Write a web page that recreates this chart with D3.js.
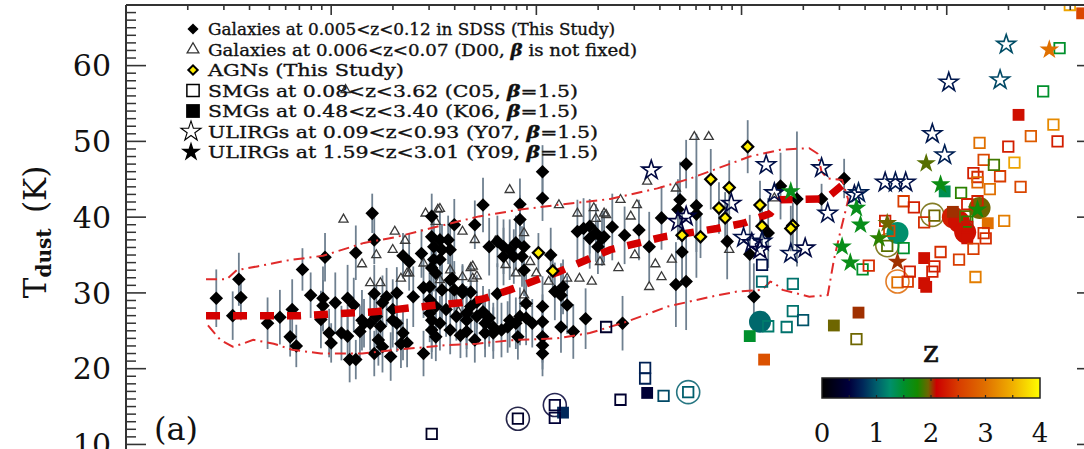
<!DOCTYPE html>
<html>
<head>
<meta charset="utf-8">
<script src="https://cdn.jsdelivr.net/npm/d3@7"></script>
<style>
  html, body { margin: 0; padding: 0; background: #fff; }
  svg { display: block; }
  text { font-family: "DejaVu Serif", "Liberation Serif", serif; fill: #111; }
</style>
</head>
<body>
<svg id="chart" width="1084" height="449"></svg>
<script>
// ---- data: x = log10(L_IR / L_sun), y = T_dust (K) ----

// SDSS galaxies, 0.005<z<0.12: [logL, Tdust, error]
const sdssGalaxies = [
  [9.44,29.3,3.8],[9.55,31.8,3.5],[9.56,29.4,3.0],[9.52,27.0,3.2],[9.69,26.0,3.4],[9.75,26.8,3.6],
  [9.81,27.8,4.0],[9.80,24.2,2.6],[9.83,23.0,2.8],[9.86,33.1,2.8],[9.90,29.7,3.0],[9.97,34.7,3.2],
  [9.96,29.3,4.2],[9.96,28.3,3.4],[9.95,26.5,3.8],[9.99,24.7,3.2],[10.00,23.4,2.6],[10.02,28.7,4.0],
  [10.05,24.7,3.6],[10.08,24.3,3.4],[10.08,29.3,4.4],[10.11,28.4,3.6],[10.12,35.3,3.6],[10.20,40.5,2.6],
  [10.21,37.0,3.2],[10.21,29.9,3.8],[10.16,26.0,3.2],[10.09,21.2,3.0],[10.12,21.2,2.6],[10.21,22.0,3.0],
  [10.49,40.1,3.0],[10.60,39.0,3.4],[10.70,39.0,3.2],[10.49,37.4,3.6],[10.53,37.0,3.8],[10.57,37.0,3.2],
  [10.50,36.1,4.0],[10.54,35.7,3.4],[10.58,35.7,3.6],[10.44,35.2,3.2],[10.38,34.1,3.8],[10.35,34.9,3.0],
  [10.50,34.4,4.2],[10.53,34.4,3.6],[10.49,33.3,3.8],[10.51,32.6,4.4],[10.59,31.9,3.4],[10.45,30.7,4.0],
  [10.48,30.8,3.6],[10.54,30.4,4.4],[10.60,30.4,3.8],[10.64,30.4,3.2],[10.68,30.1,3.6],[10.40,29.5,4.0],
  [10.32,30.0,3.4],[10.27,29.5,3.8],[10.25,28.7,3.6],[10.48,29.1,4.4],[10.51,28.2,4.0],[10.56,27.8,3.6],
  [10.61,26.9,3.2],[10.66,26.4,3.8],[10.71,26.9,3.4],[10.49,26.4,4.2],[10.53,26.0,3.6],[10.58,25.1,3.2],
  [10.63,24.4,3.0],[10.66,24.9,3.4],[10.49,25.1,3.8],[10.51,24.2,3.2],[10.45,22.0,3.0],[10.29,21.6,3.2],
  [10.25,22.9,3.4],[10.32,26.0,3.8],[10.35,24.7,3.6],[10.37,23.4,3.2],[10.30,27.8,4.0],[10.30,26.4,3.6],
  [10.22,26.9,4.2],[10.24,25.6,3.8],[10.23,23.8,3.4],[10.15,26.4,4.0],[10.19,26.0,3.6],[10.14,24.9,3.4],
  [10.71,28.8,3.6],[10.70,23.8,3.0],[11.03,46.0,3.5],[11.03,42.5,3.0],[10.92,41.7,3.4],[10.74,41.6,3.6],
  [10.92,39.7,3.2],[10.77,36.1,3.8],[10.81,36.8,3.4],[10.84,36.1,3.6],[10.87,35.7,4.0],[10.90,36.6,3.6],
  [10.94,36.1,3.4],[10.84,34.8,3.8],[10.89,34.8,3.6],[10.93,34.8,4.0],[10.94,33.0,3.4],[11.07,35.0,3.6],
  [11.20,38.1,4.2],[11.23,38.5,4.0],[11.26,38.8,3.6],[11.29,37.9,3.8],[11.33,37.4,3.4],[11.26,37.2,4.0],
  [11.30,36.1,3.6],[11.09,30.2,3.8],[11.12,29.7,4.2],[11.13,30.8,3.6],[11.15,28.4,3.8],[11.03,28.2,4.0],
  [11.03,26.2,3.6],[11.03,24.2,3.4],[11.03,23.1,3.2],[11.03,22.0,3.0],[11.24,26.6,4.0],[11.18,24.9,3.6],
  [11.12,25.5,3.4],[10.92,26.9,3.8],[10.90,26.0,3.4],[10.95,26.7,3.6],[10.98,26.0,3.2],[10.34,23.3,3.2],
  [10.48,27.3,3.8],[10.66,27.3,3.6],[10.74,27.5,3.4],[10.77,26.7,3.8],[10.81,29.9,4.0],[10.75,26.0,3.4],
  [10.79,25.5,3.2],[10.83,25.1,3.6],[10.58,31.7,3.6],[10.64,30.0,3.8],[10.68,28.2,3.4],[10.87,26.4,3.6],
  [10.86,25.5,3.4],[10.75,24.7,3.2],[10.79,24.7,3.4],[10.91,24.2,3.0],[10.95,28.6,3.8],
  [11.73,47.0,3.2],[11.70,42.3,5.0],[11.69,41.0,4.0],[11.78,41.5,9.5],[11.78,40.4,5.0],[11.61,39.9,4.2],
  [11.37,38.7,4.4],[11.43,37.6,3.8],[11.50,38.3,4.0],[11.55,36.1,4.6],[11.32,37.2,3.6],[11.71,35.4,4.4],
  [11.93,36.8,5.0],[12.19,44.1,4.4],[12.27,42.4,8.9],[12.13,37.9,4.6],[12.04,35.1,5.2],[11.68,31.1,5.6],
  [11.73,31.5,6.4],[12.06,29.5,4.4],[11.42,26.0,3.6],[12.50,45.1,2.6],[12.39,42.4,2.0]
];

// D00 galaxies, 0.006<z<0.07: [logL, Tdust]
const d00Galaxies = [
  [10.06,39.7],[10.15,33.8],[10.19,31.3],[10.22,35.0],[10.46,40.5],[10.52,41.0],[10.51,39.4],[10.64,38.1],
  [10.31,38.1],[10.36,36.9],[10.30,35.7],[10.45,33.9],[10.24,31.3],[10.37,32.6],[10.34,31.9],[10.68,33.3],
  [10.71,32.2],[10.58,33.0],[10.53,31.7],[10.62,27.5],[10.67,27.7],[10.87,43.6],[11.11,41.6],[10.53,41.1],
  [10.70,37.0],[10.80,36.8],[10.94,37.9],[10.69,33.5],[10.85,33.7],[10.90,32.6],[10.97,34.1],[11.00,32.6],
  [11.06,31.5],[11.15,31.9],[11.21,31.9],[11.20,40.5],[11.31,34.1],[11.33,40.5],[10.94,29.7],[10.95,28.6],
  [10.69,31.9],[10.38,32.6],[10.64,32.1],[11.77,50.6],[11.84,50.6],[11.54,44.7],[11.68,43.8],[11.41,42.3],
  [11.49,41.6],[11.34,40.3],[11.46,40.1],[11.48,35.0],[11.58,33.8],[11.66,34.4],[11.61,32.1],[11.55,30.8],
  [11.40,33.3],[11.94,35.7],[12.16,42.5],[11.27,31.5],[11.29,39.8],[11.28,41.2],[10.07,56.8]
];

// AGNs: [logL, Tdust, error]
const agnGalaxies = [
  [11.01,35.3,2.6],[11.08,32.9,2.4],[12.03,49.3,3.5],[11.85,45.0,4.0],[11.94,43.9,3.6],[11.89,41.2,3.4],
  [11.92,39.9,3.4],[12.09,41.6,3.2],[12.10,38.8,3.0],[11.71,37.6,3.0],[11.80,37.4,2.8],[12.25,38.9,3.0],
  [12.24,38.5,3.0]
];

// SMGs from C05 (open squares): [logL, Tdust, z]
const smgC05 = [
  [10.49,11.4,0.3],[10.91,13.4,0.35],[11.09,15.2,0.45],[11.09,13.5,0.45],[11.41,15.9,0.4],[11.53,20.1,0.7],
  [11.53,18.7,0.7],[11.62,16.4,0.9],[11.74,16.9,1.0],[11.34,25.5,0.35],[12.10,33.7,0.6],[12.10,31.5,1.05],
  [12.25,31.2,1.1],[12.25,27.6,1.1],[12.30,26.4,0.95],[12.22,25.5,1.1],[12.13,25.6,1.15],[12.56,23.9,1.95],
  [12.59,33.1,1.5],[12.62,33.6,2.4],[12.71,36.2,1.9],[12.79,35.9,1.5],[12.70,39.5,2.3],[12.72,38.2,2.6],
  [12.76,31.4,3.0],[12.81,31.5,2.5],[12.82,32.8,2.3],[12.93,32.8,2.3],[12.94,33.5,2.3],[12.79,42.1,2.5],
  [12.84,41.3,2.3],[12.89,39.3,2.4],[12.94,40.2,1.95],[12.97,35.4,2.4],[13.06,34.4,2.5],[13.13,35.8,2.5],
  [13.18,37.9,2.4],[13.19,37.2,2.4],[13.14,32.1,3.1],[13.28,39.5,3.1],[13.07,43.2,1.8],[13.10,41.7,2.3],
  [13.15,42.1,2.3],[13.09,40.1,1.9],[13.10,39.4,1.8],[13.10,38.7,2.2],[13.13,45.8,2.3],[13.15,45.3,2.4],
  [13.15,44.6,2.9],[13.26,45.4,2.5],[13.21,43.7,3.0],[13.36,44.0,2.6],[13.18,47.55,2.6],[13.23,46.9,1.85],
  [13.33,47.2,3.4],[13.16,49.8,3.0],[13.30,49.3,2.3],[13.41,50.7,2.8],[13.54,50.0,2.3],[13.52,52.2,3.2],
  [13.47,56.6,1.5],[13.55,62.3,1.5],[13.60,68.0,3.4]
];

// SMGs from K06 (filled squares): [logL, Tdust, z]
const smgK06 = [
  [11.13,14.2,0.75],[11.54,16.8,0.45],[12.04,24.3,1.5],[12.11,21.2,2.7],[12.45,25.7,1.95],[12.57,27.4,2.03],
  [12.89,34.6,2.2],[12.89,31.3,2.2],[12.90,30.8,2.2],[12.99,43.4,1.35],[13.03,40.7,2.03],[13.10,37.6,2.2],
  [13.10,37.2,2.2],[13.20,39.2,3.0],[13.35,53.5,2.2],[13.66,66.9,2.6]
];

// ULIRGs from Y07 (open stars): [logL, Tdust, z]
const ulirgY07 = [
  [11.56,46.2,0.55],[12.12,46.9,0.6],[11.95,41.8,0.55],[11.73,40.1,0.5],[11.69,39.4,0.5],[12.01,37.3,0.6],
  [12.05,36.6,0.55],[12.10,36.8,0.6],[12.09,35.7,0.5],[12.24,35.2,0.6],[12.31,35.9,0.55],[12.39,46.5,0.6],
  [12.42,40.5,0.6],[12.55,42.9,0.6],[12.57,43.2,0.7],[12.70,44.6,0.6],[12.75,44.6,0.65],[12.80,44.6,0.6],
  [12.93,51.0,0.65],[12.99,48.2,0.7],[13.01,57.8,0.65],[13.26,58.1,0.9],[13.29,62.8,0.92],[12.16,43.2,0.6]
];

// ULIRGs from Y09 (filled stars): [logL, Tdust, z]
const ulirgY09 = [
  [13.50,62.1,3.0],[12.90,47.1,1.9],[12.97,44.3,1.65],[12.56,41.2,1.6],[12.58,39.0,1.6],[12.49,36.1,1.6],
  [12.53,34.0,1.62],[12.67,37.2,1.8],[12.71,39.2,1.95],[12.76,34.1,2.03],[13.15,41.0,1.7],[12.24,43.4,1.6]
];

// Large filled circles and open rings: [logL, Tdust, z]
const filledCircles = [
  [12.09,26.2,1.05],[12.76,37.9,1.25],[13.03,40.0,2.3],[13.06,39.4,2.2],[13.16,41.2,1.95],[13.09,38.0,2.2]
];
const openRings = [
  [10.91,13.4,0.35],[11.09,15.2,0.45],[11.74,16.9,1.0],[12.93,40.3,1.95],[12.71,36.3,1.95],[12.76,31.5,2.9]
];

// Median trend of the local sample
const medianTrend = [
  [9.39,27.0],[9.85,27.0],[10.21,27.5],[10.48,28.3],[10.63,28.7],[10.74,29.2],[10.87,30.4],[11.11,32.8],
  [11.36,35.7],[11.62,37.4],[11.88,38.5],[12.01,39.2],[12.14,40.5],[12.19,42.3],[12.41,42.4],[12.52,44.9]
];

// Envelope of the local sample (open contour)
const envelope = [
  [9.39,31.8],[9.49,31.8],[9.54,33.0],[9.64,33.5],[9.80,34.35],[9.96,34.9],[10.16,36.6],[10.32,37.4],
  [10.48,38.5],[10.72,40.1],[10.92,41.0],[11.10,41.6],[11.36,42.4],[11.59,43.8],[11.75,45.1],[11.93,46.9],
  [12.04,48.0],[12.19,48.9],[12.33,49.1],[12.37,48.4],[12.39,46.0],[12.42,45.1],[12.49,44.9],[12.52,42.3],
  [12.48,37.9],[12.45,34.35],[12.42,29.7],[12.33,29.5],[12.20,30.4],[12.16,31.3],[12.14,31.5],[12.10,30.4],
  [11.98,30.2],[11.85,29.5],[11.64,28.2],[11.44,26.2],[11.26,24.7],[11.10,24.0],[10.90,23.8],[10.71,23.3],
  [10.56,23.1],[10.32,22.5],[10.15,22.0],[9.95,22.0],[9.81,22.5],[9.72,23.3],[9.62,23.8],[9.57,23.3],
  [9.52,22.9],[9.46,23.8],[9.39,26.0]
];

// Axis ticks and colour bar
const yTickValues = [10, 20, 30, 40, 50, 60];
const zTickLabels = [0, 1, 2, 3, 4];
const zColorStops = [
  [0.0,"#000000"],[0.5,"#00003c"],[0.75,"#00285a"],[1.0,"#005e6c"],[1.25,"#008f6c"],[1.5,"#00902c"],
  [1.75,"#148a00"],[1.95,"#6e6600"],[2.1,"#cc0000"],[2.5,"#d83c00"],[3.0,"#e07000"],[3.5,"#f0b000"],[4.0,"#ffff00"]
];

const legendRows = [
  "Galaxies at 0.005<z<0.12 in SDSS (This Study)",
  "Galaxies at 0.006<z<0.07 (D00, β is not fixed)",
  "AGNs (This Study)",
  "SMGs at 0.08<z<3.62 (C05, β=1.5)",
  "SMGs at 0.48<z<3.40 (K06, β=1.5)",
  "ULIRGs at 0.09<z<0.93 (Y07, β=1.5)",
  "ULIRGs at 1.59<z<3.01 (Y09, β=1.5)"
];
const legendWidths = [407, 429, 196, 370, 370, 390, 390];

// ---- scales ----
const svg = d3.select("#chart");
const x = d3.scaleLog().domain([1e9, 5.4e13]).range([126, 1097]);
const y = d3.scaleLinear().domain([8, 68]).range([459.6, 5]);
const X = v => x(Math.pow(10, v));
const zColor = d3.scaleLinear()
  .domain(zColorStops.map(d => d[0]))
  .range(zColorStops.map(d => d[1]))
  .clamp(true);

const plotLeft = x.range()[0], plotRight = x.range()[1];
const plotTop = y.range()[1], plotBottom = y.range()[0];

const defs = svg.append("defs");
defs.append("clipPath").attr("id", "plotClip")
  .append("rect").attr("x", plotLeft).attr("y", plotTop)
  .attr("width", plotRight - plotLeft).attr("height", plotBottom - plotTop);

const plot = svg.append("g").attr("clip-path", "url(#plotClip)");

const sym = (type, size) => d3.symbol().type(type).size(size)();

// error bars
const errColor = "#6f8090";
plot.append("g").selectAll("line").data(sdssGalaxies.concat(agnGalaxies)).join("line")
  .attr("x1", d => X(d[0])).attr("x2", d => X(d[0]))
  .attr("y1", d => y(d[1] - d[2])).attr("y2", d => y(d[1] + d[2]))
  .attr("stroke", errColor).attr("stroke-width", 1.8);

// D00 triangles
plot.append("g").selectAll("path").data(d00Galaxies).join("path")
  .attr("d", sym(d3.symbolTriangle, 36))
  .attr("transform", d => `translate(${X(d[0])},${y(d[1])})`)
  .attr("fill", "none").attr("stroke", "#3a3a3a").attr("stroke-width", 1.3);

// SDSS diamonds
plot.append("g").selectAll("path").data(sdssGalaxies).join("path")
  .attr("d", sym(d3.symbolSquare, 92))
  .attr("transform", d => `translate(${X(d[0])},${y(d[1])}) rotate(45)`)
  .attr("fill", "#000");

// envelope and median trend
const line = d3.line().x(d => X(d[0])).y(d => y(d[1]));
plot.append("path").datum(envelope).attr("d", line)
  .attr("fill", "none").attr("stroke", "#e02a2a").attr("stroke-width", 2)
  .attr("stroke-dasharray", "11,5,2,5");
plot.append("path").datum(medianTrend).attr("d", line)
  .attr("fill", "none").attr("stroke", "#d40000").attr("stroke-width", 7.5)
  .attr("stroke-dasharray", "14,13");

// AGN diamonds
plot.append("g").selectAll("path").data(agnGalaxies).join("path")
  .attr("d", sym(d3.symbolSquare, 62))
  .attr("transform", d => `translate(${X(d[0])},${y(d[1])}) rotate(45)`)
  .attr("fill", "#ffee00").attr("stroke", "#000").attr("stroke-width", 2.2);

// open rings
plot.append("g").selectAll("circle").data(openRings).join("circle")
  .attr("cx", d => X(d[0])).attr("cy", d => y(d[1])).attr("r", 11.5)
  .attr("fill", "none").attr("stroke", d => zColor(d[2])).attr("stroke-width", 1.6)
  .attr("stroke-opacity", 0.85);

// filled circles
plot.append("g").selectAll("circle").data(filledCircles).join("circle")
  .attr("cx", d => X(d[0])).attr("cy", d => y(d[1])).attr("r", 11)
  .attr("fill", d => zColor(d[2]));

// K06 filled squares
plot.append("g").selectAll("path").data(smgK06).join("path")
  .attr("d", sym(d3.symbolSquare, 140))
  .attr("transform", d => `translate(${X(d[0])},${y(d[1])})`)
  .attr("fill", d => zColor(d[2]));

// C05 open squares
plot.append("g").selectAll("path").data(smgC05).join("path")
  .attr("d", sym(d3.symbolSquare, 110))
  .attr("transform", d => `translate(${X(d[0])},${y(d[1])})`)
  .attr("fill", "none").attr("stroke", d => zColor(d[2])).attr("stroke-width", 1.8);

// Y07 open stars
plot.append("g").selectAll("path").data(ulirgY07).join("path")
  .attr("d", sym(d3.symbolStar, 110))
  .attr("transform", d => `translate(${X(d[0])},${y(d[1])})`)
  .attr("fill", "none").attr("stroke", d => zColor(d[2])).attr("stroke-width", 1.6);

// Y09 filled stars
plot.append("g").selectAll("path").data(ulirgY09).join("path")
  .attr("d", sym(d3.symbolStar, 120))
  .attr("transform", d => `translate(${X(d[0])},${y(d[1])})`)
  .attr("fill", d => zColor(d[2]));

// ---- axes ----
const axisColor = "#333";
const axes = svg.append("g").attr("stroke", axisColor);
axes.append("line").attr("x1", plotLeft).attr("x2", plotLeft).attr("y1", plotTop).attr("y2", plotBottom).attr("stroke-width", 2);
axes.append("line").attr("x1", plotRight).attr("x2", plotRight).attr("y1", plotTop).attr("y2", plotBottom).attr("stroke-width", 2);
axes.append("line").attr("x1", plotLeft).attr("x2", plotRight).attr("y1", plotTop).attr("y2", plotTop).attr("stroke-width", 2);

// top (log) ticks
const isDecade = v => Math.abs(Math.log10(v) - Math.round(Math.log10(v))) < 1e-6;
axes.append("g").selectAll("line").data(x.ticks()).join("line")
  .attr("x1", d => x(d)).attr("x2", d => x(d))
  .attr("y1", plotTop).attr("y2", d => plotTop + (isDecade(d) ? 10 : 5))
  .attr("stroke-width", 1.6);

// left / right ticks
const minorY = d3.range(9, 68, 1).filter(v => !yTickValues.includes(v));
axes.append("g").selectAll("line").data(minorY).join("line")
  .attr("x1", plotLeft).attr("x2", plotLeft + 10).attr("y1", d => y(d)).attr("y2", d => y(d))
  .attr("stroke-width", 1.5);
axes.append("g").selectAll("line").data(yTickValues).join("line")
  .attr("x1", plotLeft).attr("x2", plotLeft + 20).attr("y1", d => y(d)).attr("y2", d => y(d))
  .attr("stroke-width", 1.6);
axes.append("g").selectAll("line").data(yTickValues).join("line")
  .attr("x1", plotRight).attr("x2", plotRight - 20).attr("y1", d => y(d)).attr("y2", d => y(d))
  .attr("stroke-width", 1.6);

svg.append("g").selectAll("text").data(yTickValues).join("text")
  .attr("x", 111).attr("y", d => y(d)).attr("dy", "0.36em")
  .attr("text-anchor", "end").attr("font-size", 30).text(d => d);

// y title
const yTitle = svg.append("text")
  .attr("transform", "translate(46,232) rotate(-90)")
  .attr("text-anchor", "middle").attr("font-size", 31);
yTitle.append("tspan").text("T");
yTitle.append("tspan").attr("font-size", 20).attr("font-weight", "bold").attr("dy", 5).text("dust");
yTitle.append("tspan").attr("dy", -5).text("\u2002(K)");

// panel label
svg.append("text").attr("x", 154).attr("y", 440).attr("font-size", 32).text("(a)");

// ---- legend ----
const legend = svg.append("g");
const rowY = i => 29 + 20.5 * i;
const legendMarks = [
  g => g.append("path").attr("d", sym(d3.symbolSquare, 62)).attr("transform", "rotate(45)").attr("fill", "#000"),
  g => g.append("path").attr("d", sym(d3.symbolTriangle, 60)).attr("fill", "none").attr("stroke", "#333").attr("stroke-width", 1.3),
  g => g.append("path").attr("d", sym(d3.symbolSquare, 44)).attr("transform", "rotate(45)").attr("fill", "#ffee00").attr("stroke", "#000").attr("stroke-width", 2),
  g => g.append("path").attr("d", sym(d3.symbolSquare, 150)).attr("fill", "none").attr("stroke", "#000").attr("stroke-width", 1.5),
  g => g.append("path").attr("d", sym(d3.symbolSquare, 190)).attr("fill", "#000"),
  g => g.append("path").attr("d", sym(d3.symbolStar, 125)).attr("transform", "translate(-2,0)").attr("fill", "none").attr("stroke", "#000").attr("stroke-width", 1.1),
  g => g.append("path").attr("d", sym(d3.symbolStar, 125)).attr("transform", "translate(-2,0)").attr("fill", "#000")
];
legendRows.forEach((label, i) => {
  const g = legend.append("g").attr("transform", `translate(193,${rowY(i)})`);
  legendMarks[i](g);
  const t = legend.append("text").attr("x", 208).attr("y", rowY(i) + 6)
    .attr("font-size", 17).attr("stroke", "#111").attr("stroke-width", 0.35)
    .attr("textLength", legendWidths[i]).attr("lengthAdjust", "spacingAndGlyphs");
  label.split("β").forEach((part, k) => {
    if (k > 0) t.append("tspan").attr("font-weight", "bold").attr("font-style", "italic").text("β");
    t.append("tspan").text(part);
  });
});

// ---- colour bar ----
const zx = d3.scaleLinear().domain([0, 4]).range([822, 1040]);
const grad = defs.append("linearGradient").attr("id", "zGrad")
  .attr("x1", "0%").attr("x2", "100%").attr("y1", "0%").attr("y2", "0%");
grad.selectAll("stop").data(zColorStops).join("stop")
  .attr("offset", d => (d[0] / 4 * 100) + "%").attr("stop-color", d => d[1]);
const cbTop = 378, cbH = 20;
svg.append("rect").attr("x", zx(0)).attr("y", cbTop).attr("width", zx(4) - zx(0)).attr("height", cbH)
  .attr("fill", "url(#zGrad)").attr("stroke", "#222").attr("stroke-width", 1.5);
const cbTicks = d3.range(0.5, 4, 0.5);
svg.append("g").selectAll("line").data(cbTicks).join("line")
  .attr("x1", d => zx(d)).attr("x2", d => zx(d)).attr("y1", cbTop).attr("y2", cbTop + 3)
  .attr("stroke", "#222").attr("stroke-width", 1.2);
svg.append("g").selectAll("line").data(cbTicks).join("line")
  .attr("x1", d => zx(d)).attr("x2", d => zx(d)).attr("y1", cbTop + cbH).attr("y2", cbTop + cbH - 3)
  .attr("stroke", "#222").attr("stroke-width", 1.2);
svg.append("g").selectAll("text").data(zTickLabels).join("text")
  .attr("x", d => zx(d)).attr("y", 442).attr("text-anchor", "middle").attr("font-size", 26).text(d => d);
svg.append("text").attr("x", zx(2)).attr("y", 362).attr("text-anchor", "middle")
  .attr("font-size", 30).attr("stroke", "#111").attr("stroke-width", 0.6).text("z");
</script>
</body>
</html>
